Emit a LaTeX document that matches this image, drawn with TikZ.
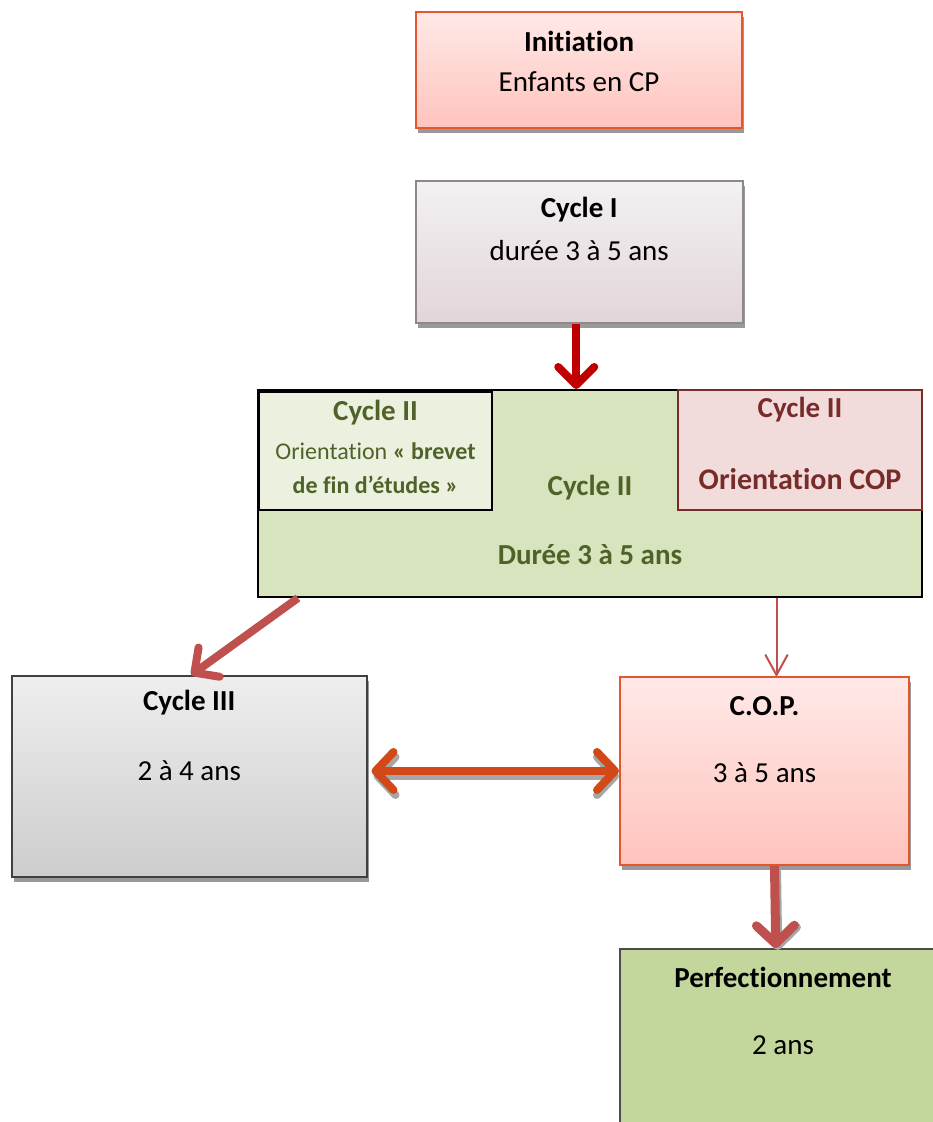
\documentclass[tikz,border=0pt]{standalone}
\usepackage{fontspec}
\setmainfont{Carlito}[Ligatures={NoCommon,NoRequired,NoContextual,NoRare},Contextuals={NoAlternate}]
\usetikzlibrary{arrows.meta,shadows,calc}
\definecolor{initTop}{HTML}{FFE9E7}
\definecolor{initBot}{HTML}{FFC3BD}
\definecolor{initLine}{HTML}{E4572E}
\definecolor{cATop}{HTML}{F3F1F1}
\definecolor{cABot}{HTML}{E2D5D9}
\definecolor{cALine}{HTML}{8E8888}
\definecolor{cBFill}{HTML}{D7E4BD}
\definecolor{cBLeft}{HTML}{EBF1DE}
\definecolor{cBRight}{HTML}{F2DCDB}
\definecolor{cBRLine}{HTML}{772C2A}
\definecolor{olive}{HTML}{4F6228}
\definecolor{cCTop}{HTML}{EEEEEE}
\definecolor{cCBot}{HTML}{CDCDCD}
\definecolor{perfFill}{HTML}{C3D69B}
\definecolor{darkRed}{HTML}{C00000}
\definecolor{softRed}{HTML}{C0504D}
\definecolor{orangeRed}{HTML}{D34817}
\tikzset{
  boxshadow/.style={drop shadow={shadow xshift=2pt,shadow yshift=-5pt,fill=black!40,opacity=1}},
  box/.style={rectangle,inner sep=0pt,anchor=north west},
  txt/.style={inner sep=0pt,font=\fontsize{29}{34}\selectfont,text=black},
  btxt/.style={txt,font=\fontsize{29}{34}\selectfont\bfseries},
  gtxt/.style={btxt,text=olive},
  bigarrow/.style={line width=8pt,-{Straight Barb[length=18pt,width=36pt,round]}},
}
\begin{document}
\begin{tikzpicture}[x=1pt,y=-1pt]
\useasboundingbox (0,0) rectangle (933,1122);
\clip (0,0) rectangle (933,1122);
% Initiation
\node[box,boxshadow,minimum width=326pt,minimum height=116pt,top color=initTop,bottom color=initBot,draw=initLine,line width=2pt] (init) at (415,11) {};
\node[btxt] (initA) at ($(init.north)+(0,30)$) {Initiation};
\node[txt] (initB) at ($(init.north)+(0,71)$) {Enfants en CP};
% Cycle I
\node[box,boxshadow,minimum width=327pt,minimum height=142pt,top color=cATop,bottom color=cABot,draw=cALine,line width=1.5pt] (c1) at (415,180) {};
\node[btxt] (c1A) at ($(c1.north)+(0,30)$) {Cycle I};
\node[txt] (c1B) at ($(c1.north)+(0,71)$) {durée 3 à 5 ans};
% Cycle II
\node[box,minimum width=664pt,minimum height=207pt,fill=cBFill,draw=black,line width=2pt] (c2) at (257,389) {};
\node[box,minimum width=233pt,minimum height=118pt,fill=cBLeft,draw=black,line width=2pt] (c2l) at (258,391) {};
\node[box,minimum width=244pt,minimum height=120pt,fill=cBRight,draw=cBRLine,line width=2pt] (c2r) at (677,389) {};
\node[gtxt] (c2lA) at ($(c2l.north)+(0,22)$) {Cycle II};
\node[txt,text=olive,font=\fontsize{24}{28}\selectfont] (c2lB) at ($(c2l.north)+(0,60)$) {Orientation \textbf{« brevet}};
\node[txt,text=olive,font=\fontsize{24}{28}\selectfont\bfseries] (c2lC) at ($(c2l.north)+(0,94)$) {de fin d’études »};
\node[gtxt] (c2A) at (590,488) {Cycle II};
\node[gtxt] (c2B) at (590,555) {Durée 3 à 5 ans};
\node[btxt,text=cBRLine] (c2rA) at ($(c2r.north)+(0,21)$) {Cycle II};
\node[btxt,text=cBRLine,font=\fontsize{30}{36}\selectfont\bfseries] (c2rB) at ($(c2r.north)+(0,90)$) {Orientation COP};
% Cycle III
\node[box,boxshadow,minimum width=355pt,minimum height=201pt,top color=cCTop,bottom color=cCBot,draw=black!75,line width=1.5pt] (c3) at (11,675) {};
\node[btxt] (c3A) at ($(c3.north)+(0,28)$) {Cycle III};
\node[txt] (c3B) at ($(c3.north)+(0,96)$) {2 à 4 ans};
% COP
\node[box,boxshadow,minimum width=289pt,minimum height=188pt,top color=initTop,bottom color=initBot,draw=initLine,line width=2pt] (cop) at (619,676) {};
\node[btxt] (copA) at ($(cop.north)+(0,30)$) {C.O.P.};
\node[txt] (copB) at ($(cop.north)+(0,97)$) {3 à 5 ans};
% Perfectionnement
\node[box,minimum width=318pt,minimum height=200pt,fill=perfFill,draw=black!70,line width=1.5pt] (perf) at (619,948) {};
\node[btxt] (perfA) at (783,977) {Perfectionnement};
\node[txt] (perfB) at (783,1045) {2 ans};
% connectors
\draw[bigarrow,darkRed] ([xshift=-3pt]c1.south) -- ([xshift=-3pt]c1.south |- c2.north);
\draw[bigarrow,softRed] ([xshift=41pt]c2.south west) -- ([xshift=2pt]c3.north);
\draw[softRed,line width=2pt,-{Straight Barb[length=20pt,width=22pt,round]}] ([xshift=12pt]cop.north |- c2.south) -- ([xshift=12pt]cop.north);
\draw[black!35,line width=8pt,{Straight Barb[length=18pt,width=38pt,round]}-{Straight Barb[length=18pt,width=38pt,round]}] ($(cop.west -| c3.east)+(6,5)$) -- ($(cop.west)+(0,5)$);
\draw[orangeRed,line width=8pt,{Straight Barb[length=18pt,width=38pt,round]}-{Straight Barb[length=18pt,width=38pt,round]}] ($(cop.west -| c3.east)+(4,0)$) -- (cop.west);
\draw[black!35,line width=9pt,-{Straight Barb[length=18pt,width=38pt,round]}] ($(cop.south)+(12,2)$) -- ($(perf.north)+(-1,2)$);
\draw[softRed,line width=9pt,-{Straight Barb[length=18pt,width=38pt,round]}] ($(cop.south)+(10,0)$) -- ($(perf.north)+(-3,0)$);
\end{tikzpicture}
\end{document}
